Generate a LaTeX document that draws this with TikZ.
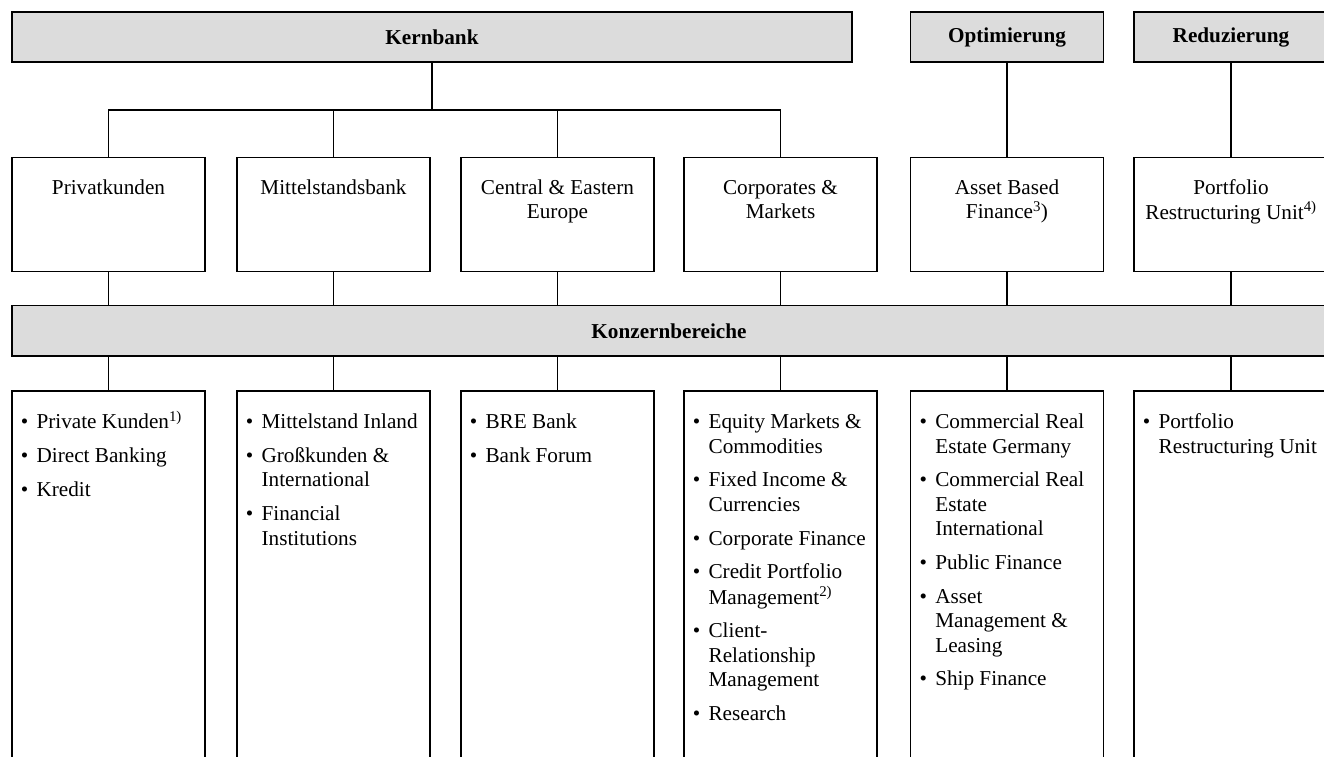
\documentclass[tikz,border=0pt]{standalone}
\usepackage{fontspec}
\setmainfont{Liberation Serif}
\definecolor{hdgray}{RGB}{220,220,220}
\newcommand\bodyfont{\fontsize{21.2}{24.4}\selectfont}
\newcommand\bl{\makebox[15.8pt][l]{\textbullet}}
\newcommand\ssup[1]{\textsuperscript{#1}}
\tikzset{
  box/.style={draw=black, line width=1.1pt, inner sep=0pt, outer sep=0pt, anchor=north west},
  hd/.style={box, fill=hdgray, font=\bodyfont\bfseries},
  conn/.style={draw=black, line width=1.1pt},
  lbl/.style={inner sep=0pt, anchor=base, font=\bodyfont},
  lst/.style={inner sep=0pt, anchor=base west, font=\bodyfont},
}
\begin{document}
\begin{tikzpicture}[x=1pt,y=-1pt]
\useasboundingbox (0,0) rectangle (1324,756);
\clip (0,0) rectangle (1324,756);
% header boxes
\node[hd, minimum width=840pt, minimum height=50pt] (kern) at (12,12) {Kernbank};
\node[hd, minimum width=192.6pt, minimum height=50pt] (opt) at (910.7,12) {Optimierung};
\node[hd, minimum width=194pt, minimum height=50pt] (red) at (1134,12) {Reduzierung};
% second row boxes
\node[box, minimum width=193pt, minimum height=113.5pt] (pk) at (12,157.7) {};
\node[box, minimum width=193pt, minimum height=113.5pt] (mb) at (237,157.7) {};
\node[box, minimum width=193pt, minimum height=113.5pt] (cee) at (461,157.7) {};
\node[box, minimum width=193pt, minimum height=113.5pt] (cm) at (684,157.7) {};
\node[box, minimum width=192.6pt, minimum height=113.5pt] (abf) at (910.7,157.7) {};
\node[box, minimum width=194pt, minimum height=113.5pt] (pru) at (1134,157.7) {};
% second row labels
\node[lbl] (tpk) at (pk.north |- 0,194.3) {\begin{tabular}[t]{@{}c@{}}Privatkunden\end{tabular}};
\node[lbl] (tmb) at (mb.north |- 0,194.3) {\begin{tabular}[t]{@{}c@{}}Mittelstandsbank\end{tabular}};
\node[lbl] (tcee) at (cee.north |- 0,194.3) {\begin{tabular}[t]{@{}c@{}}Central \& Eastern\\Europe\end{tabular}};
\node[lbl] (tcm) at (cm.north |- 0,194.3) {\begin{tabular}[t]{@{}c@{}}Corporates \&\\Markets\end{tabular}};
\node[lbl] (tabf) at (abf.north |- 0,194.3) {\begin{tabular}[t]{@{}c@{}}Asset Based\\Finance\ssup{3})\end{tabular}};
\node[lbl] (tpru) at (pru.north |- 0,194.3) {\begin{tabular}[t]{@{}c@{}}Portfolio\\Restructuring Unit\ssup{4)}\end{tabular}};
% Konzernbereiche
\node[hd, minimum width=1314pt, minimum height=50.3pt] (kb) at (12,305.7) {Konzernbereiche};
% third row boxes
\node[box, minimum width=193pt, minimum height=400pt] (l1) at (12,391) {};
\node[box, minimum width=193pt, minimum height=400pt] (l2) at (237,391) {};
\node[box, minimum width=193pt, minimum height=400pt] (l3) at (461,391) {};
\node[box, minimum width=193pt, minimum height=400pt] (l4) at (684,391) {};
\node[box, minimum width=192.6pt, minimum height=400pt] (l5) at (910.7,391) {};
\node[box, minimum width=194pt, minimum height=400pt] (l6) at (1134,391) {};
% lists
\node[lst] (tl1) at (20.6,428.7) {\begin{tabular}[t]{@{}l@{}l@{}}
\bl & Private Kunden\ssup{1)}\\[9.4pt]
\bl & Direct Banking\\[9.4pt]
\bl & Kredit
\end{tabular}};
\node[lst] (tl2) at (245.6,428.7) {\begin{tabular}[t]{@{}l@{}l@{}}
\bl & Mittelstand Inland\\[9.4pt]
\bl & Großkunden \&\\ & International\\[9.4pt]
\bl & Financial\\ & Institutions
\end{tabular}};
\node[lst] (tl3) at (469.6,428.7) {\begin{tabular}[t]{@{}l@{}l@{}}
\bl & BRE Bank\\[9.4pt]
\bl & Bank Forum
\end{tabular}};
\node[lst] (tl4) at (692.6,428.7) {\begin{tabular}[t]{@{}l@{}l@{}}
\bl & Equity Markets \&\\ & Commodities\\[9.4pt]
\bl & Fixed Income \&\\ & Currencies\\[9.4pt]
\bl & Corporate Finance\\[9.4pt]
\bl & Credit Portfolio\\ & Management\ssup{2)}\\[9.4pt]
\bl & Client-\\ & Relationship\\ & Management\\[9.4pt]
\bl & Research
\end{tabular}};
\node[lst] (tl5) at (919.3,428.7) {\begin{tabular}[t]{@{}l@{}l@{}}
\bl & Commercial Real\\ & Estate Germany\\[9.4pt]
\bl & Commercial Real\\ & Estate\\ & International\\[9.4pt]
\bl & Public Finance\\[9.4pt]
\bl & Asset\\ & Management \&\\ & Leasing\\[9.4pt]
\bl & Ship Finance
\end{tabular}};
\node[lst] (tl6) at (1142.6,428.7) {\begin{tabular}[t]{@{}l@{}l@{}}
\bl & Portfolio\\ & Restructuring Unit
\end{tabular}};
% connectors
\coordinate (bus) at (432,110);
\draw[conn] (kern.south) -- (bus);
\draw[conn] (pk.north) |- (bus) -| (cm.north);
\draw[conn] (mb.north) -- (mb.north |- bus);
\draw[conn] (cee.north) -- (cee.north |- bus);
\draw[conn] (opt.south) -- (abf.north);
\draw[conn] (red.south) -- (pru.north);
\foreach \a/\b in {pk/l1, mb/l2, cee/l3, cm/l4, abf/l5, pru/l6}{
  \draw[conn] (\a.south) -- (\a.south |- kb.north);
  \draw[conn] (\b.north |- kb.south) -- (\b.north);
}
\end{tikzpicture}
\end{document}
